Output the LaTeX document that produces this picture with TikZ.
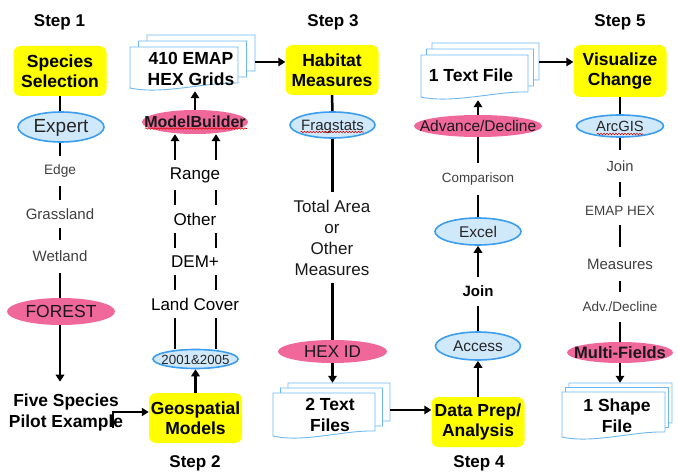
\documentclass[tikz,border=0pt]{standalone}
\usepackage{fontspec}
\setmainfont{Liberation Sans}
\usetikzlibrary{arrows.meta,shapes.geometric,decorations.pathmorphing,backgrounds}

\definecolor{boxyellow}{HTML}{FFFF00}
\definecolor{pinkfill}{HTML}{F0679A}
\definecolor{bluefill}{HTML}{CFE8FA}
\definecolor{blueline}{HTML}{3D9EF0}
\definecolor{docline}{HTML}{6CB8F2}

\newcommand\fs[2]{\fontsize{#1}{#2}\selectfont}

% stack of three pages with a wavy bottom edge behind node #1
% #2 half width, #3 half height, #4/#5 offset of each page behind
\newcommand\docstack[5]{%
  \begin{scope}[on background layer]
    \foreach \k in {2,1,0}{
      \draw[docpage, shift={(#1.center)}, shift={(\k*#4pt,\k*#5pt)}]
        (-#2pt,#3pt) -- (#2pt,#3pt) -- (#2pt,-#3pt+5pt)
        .. controls (0.4*#2pt,-#3pt+6pt) and (-0.4*#2pt,-#3pt-7pt) .. (-#2pt,-#3pt) -- cycle;
    }
  \end{scope}}

\begin{document}
\begin{tikzpicture}[x=1pt,y=-1pt,
  conn/.style={line width=2.5pt},
  arr/.style={conn,-{Triangle[length=7pt,width=8.5pt]}},
  steptitle/.style={font=\fs{17}{20}\bfseries, inner sep=0pt},
  stepbox/.style={rectangle, rounded corners=7pt, fill=boxyellow, minimum width=93pt,
    minimum height=50pt, inner sep=0pt, align=center, font=\fs{17.5}{20}\bfseries},
  ell/.style={ellipse, inner sep=0pt, text height=11.5pt, text depth=0pt,
    execute at begin node={\hbox to 0pt\bgroup\hss}, execute at end node={\hss\egroup}},
  blueell/.style={ell, fill=bluefill, draw=blueline, line width=1.6pt, text=black!85},
  pinkell/.style={ell, fill=pinkfill, text=black!90},
  lbl/.style={inner sep=0pt, minimum height=#1, align=center},
  lbl/.default=28pt,
  docnode/.style={rectangle, inner sep=0pt},
  doctext/.style={align=center, inner sep=0pt, font=\fs{17.5}{21}\bfseries},
  docpage/.style={draw=docline, line width=0.9pt, fill=white},
  spell/.style={draw=red!85!black, line width=0.6pt, decorate,
    decoration={snake, amplitude=0.7pt, segment length=3pt}}
]
\begin{scope}[on background layer]
  \fill[white] (0,0) rectangle (678,476);
\end{scope}
\useasboundingbox (0,0) rectangle (678,476);

% step titles
\node[steptitle] (s1) at (59.5,22) {Step 1};
\node[steptitle] (s2) at (195,463) {Step 2};
\node[steptitle] (s3) at (333,22) {Step 3};
\node[steptitle] (s4) at (479,463) {Step 4};
\node[steptitle] (s5) at (620,22) {Step 5};

% yellow process boxes
\node[stepbox] (species) at (60,71) {Species\\Selection};
\node[stepbox] (geo) at (195.5,418) {Geospatial\\Models};
\node[stepbox] (habitat) at (332,70) {Habitat\\Measures};
\node[stepbox] (dataprep) at (478,422) {Data Prep/\\Analysis};
\node[stepbox, minimum height=52pt] (visual) at (620,71) {Visualize\\Change};

% tools and keys
\node[blueell, minimum width=86pt, minimum height=30pt] (expert) at (61,127) {\fs{19}{22}Expert};
\node[pinkell, minimum width=108pt, minimum height=27pt] (forest) at (61,311.5) {\fs{17.5}{20}FOREST};
\node[pinkell, minimum width=106pt, minimum height=24pt] (mb) at (195,122) {\fs{16}{20}\bfseries ModelBuilder};
\node[blueell, minimum width=85pt, minimum height=19pt] (yrs) at (195.5,359) {\fs{13.3}{16}2001\&2005};
\node[blueell, minimum width=85pt, minimum height=26pt] (frag) at (332.5,125) {\fs{15}{18}Fragstats};
\node[pinkell, minimum width=109pt, minimum height=23pt] (hexid) at (332.5,351.5) {\fs{17}{20}HEX ID};
\node[pinkell, minimum width=128pt, minimum height=22pt] (advdec) at (478,126) {\fs{15.5}{18}Advance/Decline};
\node[blueell, minimum width=86pt, minimum height=27pt] (excel) at (478,231.5) {\fs{15.5}{18}Excel};
\node[blueell, minimum width=85pt, minimum height=28pt] (access) at (478,346) {\fs{15.5}{18}Access};
\node[blueell, minimum width=87pt, minimum height=22pt] (arcgis) at (620,126) {\fs{14.8}{18}ArcGIS};
\node[pinkell, minimum width=106pt, minimum height=21pt] (multi) at (620,352.5) {\fs{16.5}{20}\bfseries Multi-Fields};

% spelling marks under tool names
\draw[spell] ([xshift=-50pt,yshift=-6.5pt]mb.center) -- ([xshift=52pt,yshift=-6.5pt]mb.center);
\draw[spell] ([xshift=-32pt,yshift=-7pt]frag.center) -- ([xshift=31pt,yshift=-7pt]frag.center);
\draw[spell] ([xshift=-23pt,yshift=-8pt]arcgis.center) -- ([xshift=23pt,yshift=-8pt]arcgis.center);

% file stacks
\node[docnode, minimum width=108pt, minimum height=41pt] (grids) at (184,67.5) {};
\node[doctext] (gridsT) at (191,69) {410 EMAP\\HEX Grids};
\docstack{grids}{54}{20.5}{8.5}{6}
\node[docnode, minimum width=102pt, minimum height=43pt] (twotext) at (324,414.5) {};
\node[doctext] (twotextT) at (330,415) {2 Text\\Files};
\docstack{twotext}{51}{21.5}{7.5}{5}
\node[docnode, minimum width=107pt, minimum height=42pt] (onetext) at (474.5,76) {};
\node[doctext] (onetextT) at (471,75) {1 Text File};
\docstack{onetext}{53.5}{21}{5.5}{6}
\node[docnode, minimum width=103pt, minimum height=45pt] (shape) at (613.5,414.5) {};
\node[doctext] (shapeT) at (617,416) {1 Shape\\File};
\docstack{shape}{51.5}{22.5}{3.5}{4.5}

% labels along the connectors
\node[lbl=30pt, font=\fs{13.7}{16}, text=black!75] (edge) at (60,171) {Edge};
\node[lbl=28pt, font=\fs{15}{18}, text=black!75] (grass) at (60,214) {Grassland};
\node[lbl=33pt, font=\fs{15}{18}, text=black!75] (wet) at (60,256.5) {Wetland};
\node[inner sep=0pt, align=center, font=\fs{17.4}{21}\bfseries] (pilot) at (66,412.5) {Five Species\\Pilot Example};

\node[lbl=30pt, font=\fs{17}{20}] (range) at (195,175) {Range};
\node[lbl=28pt, font=\fs{17}{20}] (other) at (195,219) {Other};
\node[lbl=27pt, font=\fs{17}{20}] (dem) at (195,261.5) {DEM+};
\node[lbl=28pt, font=\fs{17}{20}] (land) at (195,304) {Land Cover};

\node[lbl=91pt, font=\fs{17}{21}, text=black!90] (meas3) at (332,237.5) {Total Area\\or\\Other\\Measures};

\node[lbl=32pt, font=\fs{13.4}{16}, text=black!75] (comp) at (478,179) {Comparison};
\node[lbl=29pt, font=\fs{15}{18}\bfseries] (join4) at (478,291.5) {Join};

\node[lbl=32pt, font=\fs{14.7}{18}, text=black!75] (join5) at (620,166) {Join};
\node[lbl=28pt, font=\fs{13.5}{16}, text=black!75] (emap) at (620,211) {EMAP HEX};
\node[lbl=34pt, font=\fs{15}{18}, text=black!75] (meas5) at (620,264) {Measures};
\node[lbl=30pt, font=\fs{13.5}{16}, text=black!75] (adv5) at (620,307) {Adv./Decline};

% column 1
\draw[conn] (species.south) -- (expert.north -| species.south);
\draw[conn] (expert.south -| edge.north) -- (edge.north);
\draw[conn] (edge.south) -- (grass.north);
\draw[conn] (grass.south) -- (wet.north);
\draw[conn] (wet.south) -- (forest.north -| wet.south);
\draw[arr, shorten >=12pt] (forest.south -| wet.south) -- (wet.south |- pilot.north);
\coordinate (pilotTail) at (113,428);
\draw[conn, line width=2pt, -{Triangle[length=7pt,width=8pt]}] (pilotTail) |- ([yshift=6pt]geo.west);

% column 2
\draw[arr, shorten >=3pt] (mb.north) -- (mb.north |- grids.south);
\coordinate (L) at (175,0);
\coordinate (R) at (216,0);
\foreach \c in {L,R}{
  \draw[arr] (range.north -| \c) -- (mb.south -| \c);
  \draw[conn] (range.south -| \c) -- (other.north -| \c);
  \draw[conn] (other.south -| \c) -- (dem.north -| \c);
  \draw[conn] (dem.south -| \c) -- (land.north -| \c);
  \draw[conn] (land.south -| \c) -- (yrs.north -| \c);
}
\draw[arr] (geo.north) -- (yrs.south);
\coordinate (gridsOut) at ([xshift=17pt,yshift=5.5pt]grids.east);
\draw[arr] (gridsOut) -- (gridsOut -| habitat.west);

% column 3
\draw[conn] (habitat.south) -- (frag.north);
\draw[conn] (frag.south) -- (meas3.north -| frag.south);
\draw[conn] (meas3.south -| hexid.north) -- (hexid.north);
\coordinate (twoTop) at ([yshift=10pt]twotext.north);
\draw[arr] (hexid.south) -- (hexid.south |- twoTop);
\coordinate (twoOut) at ([xshift=15pt,yshift=4.5pt]twotext.east);
\draw[arr] (twoOut) -- (twoOut -| dataprep.west);

% column 4
\draw[arr] (dataprep.north) -- (access.south);
\draw[conn] (access.north) -- (join4.south);
\draw[arr] (join4.north) -- (excel.south);
\draw[conn] (excel.north) -- (comp.south);
\draw[conn] (comp.north) -- (advdec.south);
\draw[arr, shorten >=3pt] (advdec.north) -- (advdec.north |- onetext.south);
\coordinate (oneOut) at ([xshift=11pt,yshift=14pt]onetext.east);
\draw[arr] (oneOut) -- (oneOut -| visual.west);

% column 5
\draw[conn] (visual.south) -- (arcgis.north);
\draw[conn] (arcgis.south) -- (join5.north);
\draw[conn] (join5.south) -- (emap.north);
\draw[conn] (emap.south) -- (meas5.north);
\draw[conn] (meas5.south) -- (adv5.north);
\draw[conn] (adv5.south) -- (multi.north);
\coordinate (shapeTop) at ([yshift=9pt]shape.north);
\draw[arr] (multi.south) -- (multi.south |- shapeTop);
\end{tikzpicture}
\end{document}
